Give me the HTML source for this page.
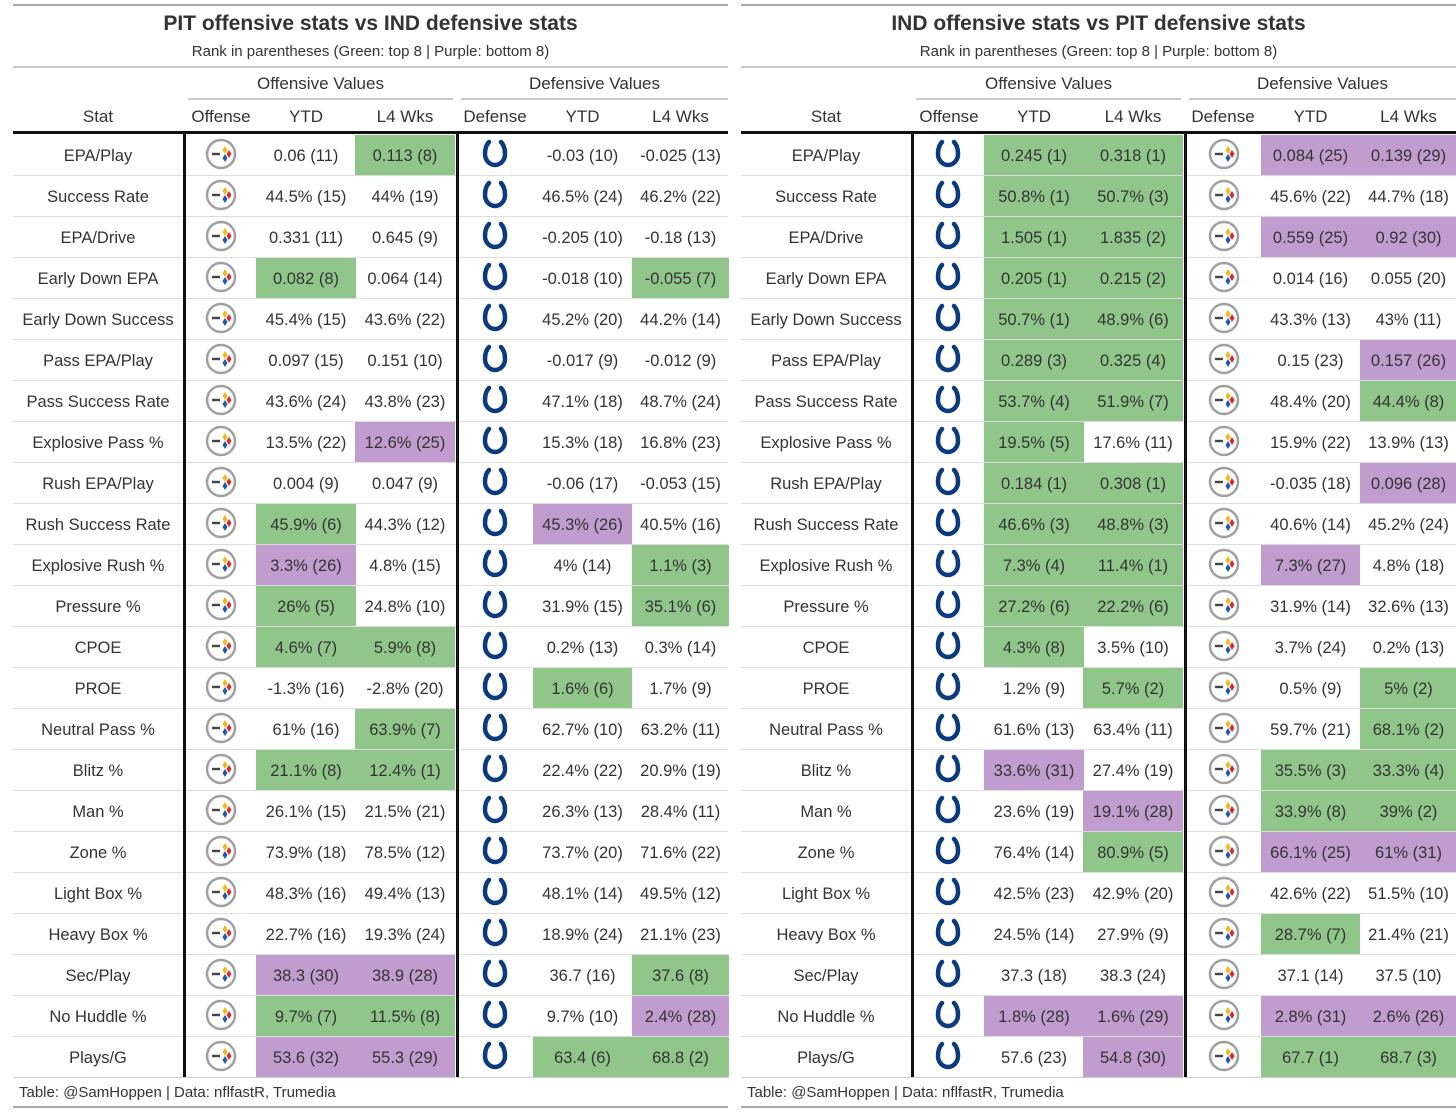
<!DOCTYPE html>
<html><head><meta charset="utf-8">
<style>
body{margin:0;background:#fff;width:1456px;height:1112px;overflow:hidden;font-family:"Liberation Sans",sans-serif;color:#333;}
.tbl{position:absolute;top:0;width:715px;height:1112px;}
.abs{position:absolute;}
.c{position:absolute;text-align:center;font-size:16.5px;white-space:nowrap;}
.title{position:absolute;left:0;width:715px;text-align:center;font-weight:bold;font-size:21px;top:12px;color:#333;}
.sub{position:absolute;left:0;width:715px;text-align:center;font-size:15px;top:43px;color:#333;}
</style></head><body>
<div id="root"></div>
<script>
const stats=["EPA/Play","Success Rate","EPA/Drive","Early Down EPA","Early Down Success","Pass EPA/Play","Pass Success Rate","Explosive Pass %","Rush EPA/Play","Rush Success Rate","Explosive Rush %","Pressure %","CPOE","PROE","Neutral Pass %","Blitz %","Man %","Zone %","Light Box %","Heavy Box %","Sec/Play","No Huddle %","Plays/G"];
const pitOffYTD=["0.06 (11)","44.5% (15)","0.331 (11)","0.082 (8)","45.4% (15)","0.097 (15)","43.6% (24)","13.5% (22)","0.004 (9)","45.9% (6)","3.3% (26)","26% (5)","4.6% (7)","-1.3% (16)","61% (16)","21.1% (8)","26.1% (15)","73.9% (18)","48.3% (16)","22.7% (16)","38.3 (30)","9.7% (7)","53.6 (32)"];
const pitOffL4=["0.113 (8)","44% (19)","0.645 (9)","0.064 (14)","43.6% (22)","0.151 (10)","43.8% (23)","12.6% (25)","0.047 (9)","44.3% (12)","4.8% (15)","24.8% (10)","5.9% (8)","-2.8% (20)","63.9% (7)","12.4% (1)","21.5% (21)","78.5% (12)","49.4% (13)","19.3% (24)","38.9 (28)","11.5% (8)","55.3 (29)"];
const indDefYTD=["-0.03 (10)","46.5% (24)","-0.205 (10)","-0.018 (10)","45.2% (20)","-0.017 (9)","47.1% (18)","15.3% (18)","-0.06 (17)","45.3% (26)","4% (14)","31.9% (15)","0.2% (13)","1.6% (6)","62.7% (10)","22.4% (22)","26.3% (13)","73.7% (20)","48.1% (14)","18.9% (24)","36.7 (16)","9.7% (10)","63.4 (6)"];
const indDefL4=["-0.025 (13)","46.2% (22)","-0.18 (13)","-0.055 (7)","44.2% (14)","-0.012 (9)","48.7% (24)","16.8% (23)","-0.053 (15)","40.5% (16)","1.1% (3)","35.1% (6)","0.3% (14)","1.7% (9)","63.2% (11)","20.9% (19)","28.4% (11)","71.6% (22)","49.5% (12)","21.1% (23)","37.6 (8)","2.4% (28)","68.8 (2)"];
const indOffYTD=["0.245 (1)","50.8% (1)","1.505 (1)","0.205 (1)","50.7% (1)","0.289 (3)","53.7% (4)","19.5% (5)","0.184 (1)","46.6% (3)","7.3% (4)","27.2% (6)","4.3% (8)","1.2% (9)","61.6% (13)","33.6% (31)","23.6% (19)","76.4% (14)","42.5% (23)","24.5% (14)","37.3 (18)","1.8% (28)","57.6 (23)"];
const indOffL4=["0.318 (1)","50.7% (3)","1.835 (2)","0.215 (2)","48.9% (6)","0.325 (4)","51.9% (7)","17.6% (11)","0.308 (1)","48.8% (3)","11.4% (1)","22.2% (6)","3.5% (10)","5.7% (2)","63.4% (11)","27.4% (19)","19.1% (28)","80.9% (5)","42.9% (20)","27.9% (9)","38.3 (24)","1.6% (29)","54.8 (30)"];
const pitDefYTD=["0.084 (25)","45.6% (22)","0.559 (25)","0.014 (16)","43.3% (13)","0.15 (23)","48.4% (20)","15.9% (22)","-0.035 (18)","40.6% (14)","7.3% (27)","31.9% (14)","3.7% (24)","0.5% (9)","59.7% (21)","35.5% (3)","33.9% (8)","66.1% (25)","42.6% (22)","28.7% (7)","37.1 (14)","2.8% (31)","67.7 (1)"];
const pitDefL4=["0.139 (29)","44.7% (18)","0.92 (30)","0.055 (20)","43% (11)","0.157 (26)","44.4% (8)","13.9% (13)","0.096 (28)","45.2% (24)","4.8% (18)","32.6% (13)","0.2% (13)","5% (2)","68.1% (2)","33.3% (4)","39% (2)","61% (31)","51.5% (10)","21.4% (21)","37.5 (10)","2.6% (26)","68.7 (3)"];
const tables=[
 {left:13,title:"PIT offensive stats vs IND defensive stats",off:"pit",def:"ind",oy:pitOffYTD,ol:pitOffL4,dy:indDefYTD,dl:indDefL4},
 {left:741,title:"IND offensive stats vs PIT defensive stats",off:"ind",def:"pit",oy:indOffYTD,ol:indOffL4,dy:pitDefYTD,dl:pitDefL4}];
const pitSVG='<svg width="32" height="32" viewBox="0 0 32 32"><circle cx="16" cy="16" r="14" fill="#fff" stroke="#a0a0a0" stroke-width="2.5"/><path d="M20 8l2.5 4 -2.5 4 -2.5-4z" fill="#f5b81c"/><path d="M24 12l2.5 4-2.5 4-2.5-4z" fill="#d52b2b"/><path d="M20 16l2.5 4-2.5 4-2.5-4z" fill="#1f5aa8"/><rect x="7" y="14.8" width="8" height="2.4" fill="#444"/></svg>';
const indSVG='<svg width="30" height="32" viewBox="0 0 30 32"><path d="M9 4 Q5 8 5 16 A10 11 0 0 0 25 16 Q25 8 21 4" fill="none" stroke="#0b3a7e" stroke-width="4.5" stroke-linecap="round"/></svg>';
function rankColor(s){const m=s.match(/\((\d+)\)/);const r=+m[1];return r<=8?"#91c68b":(r>=25?"#c09ccf":"transparent");}
const root=document.getElementById('root');
const ROW0=135,RH=41;
tables.forEach((t,ti)=>{
 const d=document.createElement('div');d.className='tbl';d.style.left=t.left+'px';
 
 
 let h='';
 h+='<div class="abs" style="left:0;top:4px;width:715px;height:2px;background:#aaa"></div>';
 h+='<div class="title">'+t.title+'</div>';
 h+='<div class="sub">Rank in parentheses (Green: top 8 | Purple: bottom 8)</div>';
 h+='<div class="abs" style="left:0;top:66px;width:715px;height:2px;background:#ccc"></div>';
 h+='<div class="c" style="left:175px;width:265px;top:74px;font-size:17px">Offensive Values</div>';
 h+='<div class="abs" style="left:175px;top:98px;width:265px;height:2px;background:#ccc"></div>';
 h+='<div class="c" style="left:448px;width:267px;top:74px;font-size:17px">Defensive Values</div>';
 h+='<div class="abs" style="left:448px;top:98px;width:267px;height:2px;background:#ccc"></div>';
 const cols=[[0,170,'Stat'],[173,70,'Offense'],[243,100,'YTD'],[342,100,'L4 Wks'],[446,72,'Defense'],[520,99,'YTD'],[619,97,'L4 Wks']];
 cols.forEach(c=>{h+='<div class="c" style="left:'+c[0]+'px;width:'+c[1]+'px;top:107px;font-size:17px">'+c[2]+'</div>';});
 h+='<div class="abs" style="left:0;top:131px;width:715px;height:3px;background:#111"></div>';
 stats.forEach((s,i)=>{
  const y=ROW0+i*RH;
  const vals=[[243,100,t.oy[i]],[342,100,t.ol[i]],[520,99,t.dy[i]],[619,97,t.dl[i]]];
  vals.forEach(v=>{h+='<div class="abs" style="left:'+v[0]+'px;top:'+y+'px;width:'+v[1]+'px;height:'+(RH-1)+'px;background:'+rankColor(v[2])+'"></div>';});
  h+='<div class="abs" style="left:0;top:'+(y+RH-1)+'px;width:715px;height:1px;background:#ddd"></div>';
  h+='<div class="c" style="left:0;width:170px;top:'+(y+12)+'px">'+s+'</div>';
  h+='<div class="abs" style="left:192px;top:'+(y+3)+'px">'+(t.off=='pit'?pitSVG:indSVG)+'</div>';
  h+='<div class="abs" style="left:467px;top:'+(y+3)+'px">'+(t.def=='pit'?pitSVG:indSVG)+'</div>';
  vals.forEach(v=>{h+='<div class="c" style="left:'+v[0]+'px;width:'+v[1]+'px;top:'+(y+12)+'px">'+v[2]+'</div>';});
 });
 h+='<div class="abs" style="left:170px;top:133px;width:3px;height:945px;background:#111"></div>';
 h+='<div class="abs" style="left:443px;top:133px;width:3px;height:945px;background:#111"></div>';
 h+='<div class="abs" style="left:0;top:1077px;width:715px;height:1px;background:#ccc"></div>';
 h+='<div class="abs" style="left:6px;top:1084px;font-size:15px">Table: @SamHoppen | Data: nflfastR, Trumedia</div>';
 h+='<div class="abs" style="left:0;top:1106px;width:715px;height:2px;background:#aaa"></div>';
 d.innerHTML=h;root.appendChild(d);
});
</script>
</body></html>
